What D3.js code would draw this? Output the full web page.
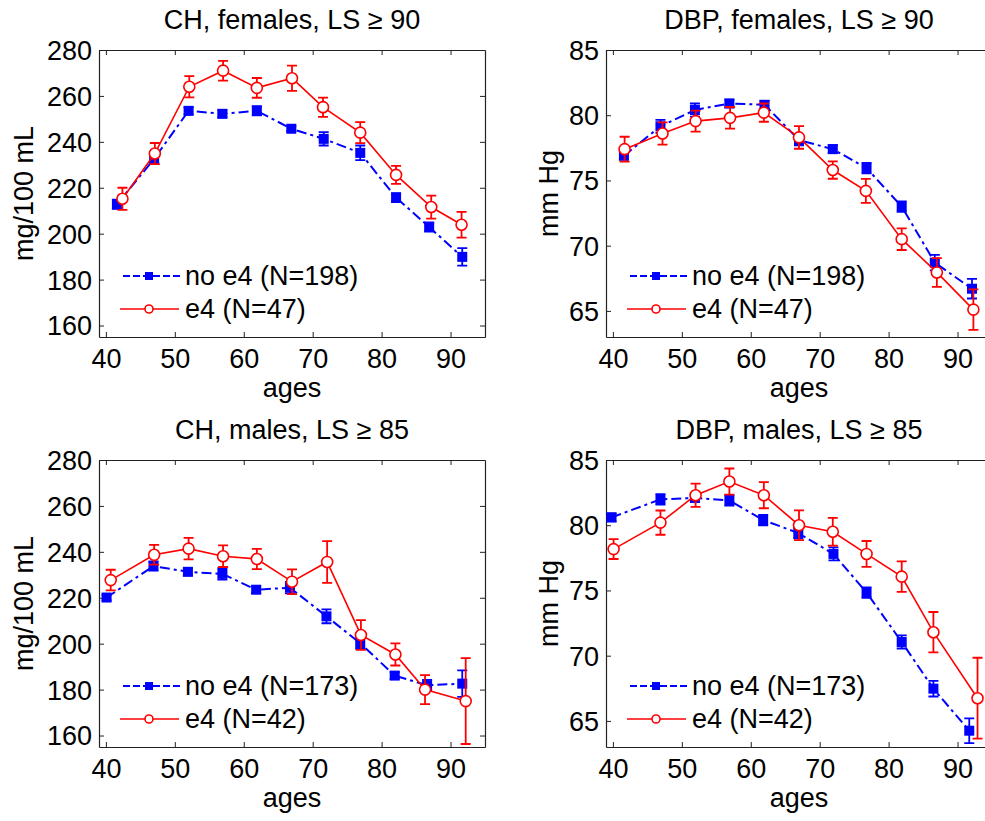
<!DOCTYPE html>
<html>
<head>
<meta charset="utf-8">
<script src="https://cdn.jsdelivr.net/npm/d3@7"></script>
<style>
  body, html { margin: 0; padding: 0; background: #fff; overflow: hidden; }
  svg { display: block; font-family: "Liberation Sans", Arial, sans-serif; }
  .ax text { font-size: 27px; fill: #000; }
</style>
</head>
<body>
<svg id="chart" width="985" height="821"></svg>
<script>
// x ticks, y ticks
var ageTicks = [40, 50, 60, 70, 80, 90];
var chTicks = [160, 180, 200, 220, 240, 260, 280];
var dbpTicks = [65, 70, 75, 80, 85];

// CH, females, LS >= 90
var chFemNoAge = [41.6, 47.0, 52.0, 56.9, 61.9, 66.9, 71.6, 76.9, 82.1, 86.9, 91.7];
var chFemNoVal = [212.8, 232.6, 253.5, 252.2, 253.5, 245.7, 241.3, 235.2, 215.7, 202.9, 189.9];
var chFemNoErr = [2, 2, 1.5, 1.5, 2, 1, 2.9, 3.2, 2, 2, 3.8];
var chFemE4Age = [42.4, 47.1, 52.1, 57.0, 61.9, 67.0, 71.5, 76.9, 82.1, 87.2, 91.6];
var chFemE4Val = [215.2, 234.9, 264.0, 271.0, 263.5, 267.7, 255.1, 244.0, 225.6, 211.6, 203.9];
var chFemE4Err = [4.8, 4.6, 4.6, 4.3, 4.3, 5.5, 4.2, 4.6, 3.9, 5.0, 5.6];

// DBP, females, LS >= 90
var dbpFemNoAge = [41.6, 46.9, 51.9, 56.9, 62.0, 67.0, 71.9, 76.8, 81.9, 86.7, 92.1];
var dbpFemNoVal = [76.9, 79.15, 80.4, 80.9, 80.8, 78.1, 77.4, 75.95, 73.0, 68.7, 66.7];
var dbpFemNoErr = [0.3, 0.5, 0.5, 0.3, 0.3, 0.4, 0.3, 0.4, 0.4, 0.6, 0.75];
var dbpFemE4Age = [41.7, 47.2, 52.0, 57.0, 61.9, 67.0, 71.9, 76.7, 81.9, 87.0, 92.3];
var dbpFemE4Val = [77.4, 78.6, 79.55, 79.8, 80.2, 78.3, 75.8, 74.2, 70.5, 67.95, 65.1];
var dbpFemE4Err = [0.95, 0.85, 0.8, 0.83, 0.7, 0.87, 0.67, 0.92, 0.83, 1.1, 1.55];

// CH, males, LS >= 85
var chMalNoAge = [40.1, 46.9, 51.9, 56.9, 61.8, 66.7, 72.0, 76.9, 81.9, 86.6, 91.7];
var chMalNoVal = [220.1, 233.8, 231.3, 230.4, 223.5, 224.4, 211.9, 200.2, 186.1, 181.9, 182.6];
var chMalNoErr = [1.2, 2, 1.5, 2.5, 1.5, 2.5, 3, 2.5, 1.5, 2.3, 5.8];
var chMalE4Age = [40.7, 47.0, 52.0, 57.0, 61.9, 67.0, 72.1, 77.0, 82.0, 86.3, 92.2];
var chMalE4Val = [227.7, 238.7, 241.4, 238.1, 236.9, 227.0, 235.6, 203.8, 195.3, 180.0, 175.0];
var chMalE4Err = [4.5, 4.3, 4.7, 4.7, 4.4, 5.4, 9.1, 6.5, 4.8, 6.3, 18.7];

// DBP, males, LS >= 85
var dbpMalNoAge = [39.8, 46.9, 51.9, 56.9, 61.8, 66.9, 72.0, 76.8, 81.9, 86.5, 91.7];
var dbpMalNoVal = [80.6, 81.98, 82.1, 81.9, 80.4, 79.4, 77.8, 74.84, 71.05, 67.47, 64.25];
var dbpMalNoErr = [0.3, 0.4, 0.3, 0.4, 0.4, 0.4, 0.5, 0.4, 0.5, 0.6, 0.95];
var dbpMalE4Age = [40.1, 46.9, 52.0, 56.9, 61.9, 67.0, 71.9, 76.8, 81.9, 86.5, 92.9];
var dbpMalE4Val = [78.17, 80.2, 82.3, 83.35, 82.3, 80.0, 79.5, 77.8, 76.06, 71.8, 66.74];
var dbpMalE4Err = [0.76, 0.93, 0.89, 1.0, 1.0, 1.14, 1.07, 0.99, 1.17, 1.55, 3.1];

var zip = function(a, v, e) {
  return a.map(function(d, i) { return {x: d, y: v[i], e: e[i]}; });
};

var panels = [
  {left: 99, top: 50, title: "CH, females, LS \u2265 90", ylab: "mg/100 mL", ydom: [155, 280], yticks: chTicks,
   no: zip(chFemNoAge, chFemNoVal, chFemNoErr), e4: zip(chFemE4Age, chFemE4Val, chFemE4Err),
   leg: ["no e4 (N=198)", "e4 (N=47)"], ylabX: -66},
  {left: 606, top: 50, title: "DBP, females, LS \u2265 90", ylab: "mm Hg", ydom: [63, 85], yticks: dbpTicks,
   no: zip(dbpFemNoAge, dbpFemNoVal, dbpFemNoErr), e4: zip(dbpFemE4Age, dbpFemE4Val, dbpFemE4Err),
   leg: ["no e4 (N=198)", "e4 (N=47)"], ylabX: -48},
  {left: 99, top: 460, title: "CH, males, LS \u2265 85", ylab: "mg/100 mL", ydom: [155, 280], yticks: chTicks,
   no: zip(chMalNoAge, chMalNoVal, chMalNoErr), e4: zip(chMalE4Age, chMalE4Val, chMalE4Err),
   leg: ["no e4 (N=173)", "e4 (N=42)"], ylabX: -66},
  {left: 606, top: 460, title: "DBP, males, LS \u2265 85", ylab: "mm Hg", ydom: [63, 85], yticks: dbpTicks,
   no: zip(dbpMalNoAge, dbpMalNoVal, dbpMalNoErr), e4: zip(dbpMalE4Age, dbpMalE4Val, dbpMalE4Err),
   leg: ["no e4 (N=173)", "e4 (N=42)"], ylabX: -48}
];

var W = 386, H = 287, tick = 5;
var svg = d3.select("#chart");
svg.append("rect").attr("width", 985).attr("height", 821).attr("fill", "#fff");

var blueDash = "10,4,3,4";

panels.forEach(function(p, pi) {
  var g = svg.append("g").attr("class", "ax").attr("transform", "translate(" + p.left + "," + p.top + ")");
  var x = d3.scaleLinear().domain([39, 95]).range([0, W]);
  var y = d3.scaleLinear().domain(p.ydom).range([H, 0]);

  g.append("defs").append("clipPath").attr("id", "clip" + pi)
    .append("rect").attr("x", 0).attr("y", 0).attr("width", W).attr("height", H);

  // axes: inward ticks on all four sides
  var bottom = g.append("g").attr("transform", "translate(0," + H + ")")
    .call(d3.axisBottom(x).tickValues(ageTicks).tickSizeInner(-tick).tickSizeOuter(0).tickPadding(12));
  var top = g.append("g").call(d3.axisTop(x).tickValues(ageTicks).tickSizeInner(-tick).tickSizeOuter(0).tickFormat(""));
  var left = g.append("g")
    .call(d3.axisLeft(y).tickValues(p.yticks).tickSizeInner(-tick).tickSizeOuter(0).tickPadding(12));
  var right = g.append("g").attr("transform", "translate(" + W + ",0)")
    .call(d3.axisRight(y).tickValues(p.yticks).tickSizeInner(-tick).tickSizeOuter(0).tickFormat(""));
  [bottom, top, left, right].forEach(function(a) {
    a.selectAll("path.domain").attr("stroke", "#222").attr("stroke-width", 1.2);
    a.selectAll(".tick line").attr("stroke", "#222");
    a.selectAll("text").attr("font-size", 27).attr("font-family", null).attr("fill", "#000");
  });
  bottom.selectAll("text").attr("dy", null).attr("y", 31);
  left.selectAll("text").attr("x", -7).attr("dy", "0.35em");

  g.append("text").attr("x", W / 2).attr("y", -21).attr("text-anchor", "middle").text(p.title);
  g.append("text").attr("x", W / 2).attr("y", H + 60).attr("text-anchor", "middle").text("ages");
  g.append("text").attr("transform", "translate(" + p.ylabX + "," + (H / 2) + ") rotate(-90)")
    .attr("text-anchor", "middle").text(p.ylab);

  var plot = g.append("g").attr("clip-path", "url(#clip" + pi + ")");
  var line = d3.line().x(function(d) { return x(d.x); }).y(function(d) { return y(d.y); });

  function errbars(data, color, w) {
    var eb = plot.append("g").attr("stroke", color).attr("stroke-width", w).attr("fill", "none");
    eb.selectAll("path").data(data).enter().append("path")
      .attr("d", function(d) {
        var cx = x(d.x), y0 = y(d.y - d.e), y1 = y(d.y + d.e);
        return "M" + cx + "," + y0 + "V" + y1 + "M" + (cx - 5) + "," + y0 + "H" + (cx + 5) +
               "M" + (cx - 5) + "," + y1 + "H" + (cx + 5);
      });
  }

  // no e4 series
  errbars(p.no, "#0000ff", 1.8);
  plot.append("path").datum(p.no).attr("d", line).attr("fill", "none")
    .attr("stroke", "#0000ff").attr("stroke-width", 2).attr("stroke-dasharray", blueDash);
  plot.selectAll("rect.sq").data(p.no).enter().append("rect").attr("class", "sq")
    .attr("x", function(d) { return x(d.x) - 5; }).attr("y", function(d) { return y(d.y) - 5; })
    .attr("width", 10).attr("height", 10).attr("fill", "#0000ff");

  // e4 series
  errbars(p.e4, "#ff0000", 1.8);
  plot.append("path").datum(p.e4).attr("d", line).attr("fill", "none")
    .attr("stroke", "#ff0000").attr("stroke-width", 1.6);
  plot.selectAll("circle.ci").data(p.e4).enter().append("circle").attr("class", "ci")
    .attr("cx", function(d) { return x(d.x); }).attr("cy", function(d) { return y(d.y); })
    .attr("r", 5.5).attr("fill", "#fff").attr("stroke", "#ff0000").attr("stroke-width", 1.6);

  // legend
  var lg = g.append("g");
  var r1 = 226, r2 = 259;
  lg.append("line").attr("x1", 24).attr("x2", 81).attr("y1", r1).attr("y2", r1)
    .attr("stroke", "#0000ff").attr("stroke-width", 2).attr("stroke-dasharray", "7,3");
  lg.append("rect").attr("x", 50 - 4).attr("y", r1 - 4).attr("width", 8).attr("height", 8).attr("fill", "#0000ff");
  lg.append("text").attr("x", 86).attr("y", r1).attr("dy", "0.35em").text(p.leg[0]);
  lg.append("line").attr("x1", 21).attr("x2", 80).attr("y1", r2).attr("y2", r2)
    .attr("stroke", "#ff0000").attr("stroke-width", 1.6);
  lg.append("circle").attr("cx", 50).attr("cy", r2).attr("r", 4).attr("fill", "#fff")
    .attr("stroke", "#ff0000").attr("stroke-width", 1.6);
  lg.append("text").attr("x", 86).attr("y", r2).attr("dy", "0.35em").text(p.leg[1]);
});
</script>
</body>
</html>
